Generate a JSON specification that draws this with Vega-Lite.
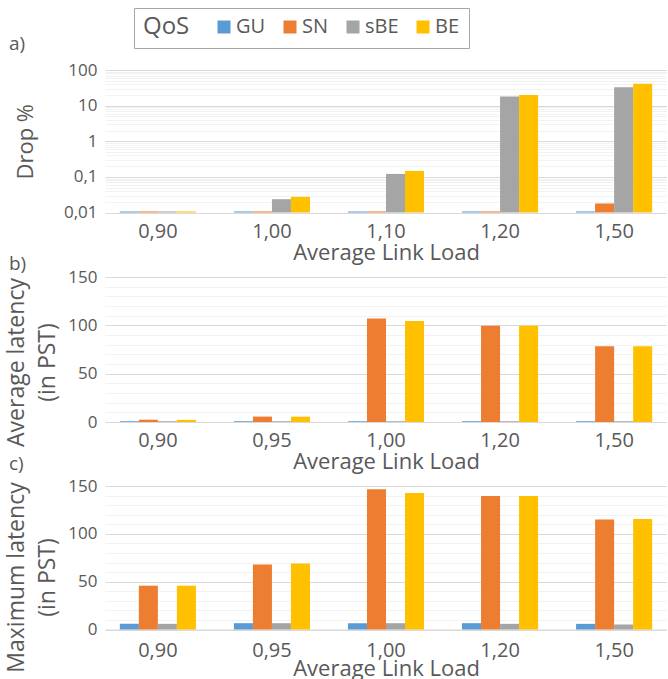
{
  "$schema": "https://vega.github.io/schema/vega-lite/v6.json",
  "background": "white",
  "padding": {"left": 4, "top": 7, "right": 0, "bottom": 0},
  "bounds": "flush",
  "spacing": 64,
  "config": {
    "font": "Open Sans",
    "view": {"stroke": null},
    "axis": {
      "labelColor": "#595959",
      "titleColor": "#595959",
      "titleFontWeight": "normal",
      "ticks": false,
      "tickSize": 0,
      "domainColor": "#d9d9d9",
      "gridColor": "#d9d9d9",
      "labelOverlap": false
    },
    "axisX": {
      "labelAngle": 0,
      "labelFontSize": 20,
      "labelPadding": 8,
      "titleFontSize": 22,
      "titlePadding": 1,
      "grid": false,
      "domain": true
    },
    "axisY": {
      "labelFontSize": 17,
      "labelPadding": 8,
      "titleFontSize": 23,
      "titleLineHeight": 31,
      "domain": false
    },
    "title": {
      "anchor": "start",
      "frame": "group",
      "dx": -96,
      "fontSize": 19,
      "fontWeight": "normal",
      "color": "#595959"
    },
    "legend": {
      "orient": "none",
      "legendX": 29,
      "legendY": -62,
      "direction": "horizontal",
      "titleOrient": "left",
      "titleFontSize": 24,
      "titleFontWeight": "normal",
      "titleColor": "#595959",
      "labelFontSize": 20,
      "labelColor": "#595959",
      "symbolType": "square",
      "symbolSize": 169,
      "symbolStrokeWidth": 0,
      "strokeColor": "#a6a6a6",
      "fillColor": "white",
      "padding": 9,
      "columnPadding": 14,
      "labelOffset": 2,
      "titlePadding": 24
    }
  },
  "datasets": {
    "drop": [
      {"load": "0,90", "qos": "GU", "value": 0.0107},
      {"load": "0,90", "qos": "SN", "value": 0.0107},
      {"load": "0,90", "qos": "sBE", "value": 0.0107},
      {"load": "0,90", "qos": "BE", "value": 0.0107},
      {"load": "1,00", "qos": "GU", "value": 0.0107},
      {"load": "1,00", "qos": "SN", "value": 0.0107},
      {"load": "1,00", "qos": "sBE", "value": 0.0236},
      {"load": "1,00", "qos": "BE", "value": 0.0275},
      {"load": "1,10", "qos": "GU", "value": 0.0107},
      {"load": "1,10", "qos": "SN", "value": 0.0107},
      {"load": "1,10", "qos": "sBE", "value": 0.121},
      {"load": "1,10", "qos": "BE", "value": 0.147},
      {"load": "1,20", "qos": "GU", "value": 0.0107},
      {"load": "1,20", "qos": "SN", "value": 0.0107},
      {"load": "1,20", "qos": "sBE", "value": 17.9},
      {"load": "1,20", "qos": "BE", "value": 20},
      {"load": "1,50", "qos": "GU", "value": 0.0107},
      {"load": "1,50", "qos": "SN", "value": 0.0179},
      {"load": "1,50", "qos": "sBE", "value": 33},
      {"load": "1,50", "qos": "BE", "value": 41}
    ],
    "avg": [
      {"load": "0,90", "qos": "GU", "value": 0.8},
      {"load": "0,90", "qos": "SN", "value": 2.4},
      {"load": "0,90", "qos": "sBE", "value": 0.8},
      {"load": "0,90", "qos": "BE", "value": 2.2},
      {"load": "0,95", "qos": "GU", "value": 0.8},
      {"load": "0,95", "qos": "SN", "value": 5.6},
      {"load": "0,95", "qos": "sBE", "value": 0.8},
      {"load": "0,95", "qos": "BE", "value": 5.5},
      {"load": "1,00", "qos": "GU", "value": 0.8},
      {"load": "1,00", "qos": "SN", "value": 107},
      {"load": "1,00", "qos": "sBE", "value": 0.8},
      {"load": "1,00", "qos": "BE", "value": 104.5},
      {"load": "1,20", "qos": "GU", "value": 0.8},
      {"load": "1,20", "qos": "SN", "value": 99.5},
      {"load": "1,20", "qos": "sBE", "value": 0.8},
      {"load": "1,20", "qos": "BE", "value": 99.5},
      {"load": "1,50", "qos": "GU", "value": 0.8},
      {"load": "1,50", "qos": "SN", "value": 78.3},
      {"load": "1,50", "qos": "sBE", "value": 0.8},
      {"load": "1,50", "qos": "BE", "value": 78.3}
    ],
    "max": [
      {"load": "0,90", "qos": "GU", "value": 5.9},
      {"load": "0,90", "qos": "SN", "value": 45.8},
      {"load": "0,90", "qos": "sBE", "value": 5.9},
      {"load": "0,90", "qos": "BE", "value": 45.8},
      {"load": "0,95", "qos": "GU", "value": 6.6},
      {"load": "0,95", "qos": "SN", "value": 68},
      {"load": "0,95", "qos": "sBE", "value": 6.6},
      {"load": "0,95", "qos": "BE", "value": 69},
      {"load": "1,00", "qos": "GU", "value": 6.6},
      {"load": "1,00", "qos": "SN", "value": 146.5},
      {"load": "1,00", "qos": "sBE", "value": 6.6},
      {"load": "1,00", "qos": "BE", "value": 142.7},
      {"load": "1,20", "qos": "GU", "value": 6.6},
      {"load": "1,20", "qos": "SN", "value": 139.6},
      {"load": "1,20", "qos": "sBE", "value": 5.9},
      {"load": "1,20", "qos": "BE", "value": 139.6},
      {"load": "1,50", "qos": "GU", "value": 5.9},
      {"load": "1,50", "qos": "SN", "value": 115},
      {"load": "1,50", "qos": "sBE", "value": 5.2},
      {"load": "1,50", "qos": "BE", "value": 115.6}
    ]
  },
  "vconcat": [
    {
      "title": {"text": "a)", "dy": -3},
      "width": 562,
      "height": 142.5,
      "data": {"name": "drop"},
      "mark": {"type": "bar"},
      "encoding": {
        "x": {"field": "load", "type": "nominal", "sort": null,
              "scale": {"paddingInner": 0.333, "paddingOuter": 0.13},
              "axis": {"title": "Average Link Load", "domain": false, "labelPadding": 9}},
        "xOffset": {"field": "qos", "type": "nominal", "sort": ["GU", "SN", "sBE", "BE"],
                    "scale": {"paddingInner": 0, "paddingOuter": 0}},
        "y": {"field": "value", "type": "quantitative",
              "scale": {"type": "log", "domain": [0.01, 100], "nice": false},
              "axis": {
                "title": "Drop %",
                "titleFontSize": 22,
                "titleX": -68,
                "values": [0.01, 0.02, 0.03, 0.04, 0.05, 0.06, 0.07, 0.08, 0.09, 0.1, 0.2, 0.3, 0.4, 0.5, 0.6, 0.7, 0.8, 0.9, 1, 2, 3, 4, 5, 6, 7, 8, 9, 10, 20, 30, 40, 50, 60, 70, 80, 90, 100],
                "format": "~g",
                "labelExpr": "indexof([0.01, 0.1, 1, 10, 100], datum.value) >= 0 ? replace(datum.label, '.', ',') : ''",
                "gridColor": {"condition": {"test": "indexof([0.01, 0.1, 1, 10, 100], datum.value) >= 0", "value": "#d9d9d9"}, "value": "#f2f2f2"}
              }},
        "y2": {"datum": 0.01},
        "color": {"field": "qos", "type": "nominal",
                  "scale": {"domain": ["GU", "SN", "sBE", "BE"], "range": ["#5B9BD5", "#ED7D31", "#A5A5A5", "#FFC000"]},
                  "legend": {"title": "QoS"}}
      }
    },
    {
      "title": {"text": "b)", "dy": 10},
      "width": 562,
      "height": 145,
      "data": {"name": "avg"},
      "mark": {"type": "bar"},
      "encoding": {
        "x": {"field": "load", "type": "nominal", "sort": null,
              "scale": {"paddingInner": 0.333, "paddingOuter": 0.13},
              "axis": {"title": "Average Link Load"}},
        "xOffset": {"field": "qos", "type": "nominal", "sort": ["GU", "SN", "sBE", "BE"],
                    "scale": {"paddingInner": 0, "paddingOuter": 0}},
        "y": {"field": "value", "type": "quantitative",
              "scale": {"domain": [0, 150], "nice": false},
              "axis": {
                "title": ["Average latency", "(in PST)"],
                "titleX": -77,
                "titleY": 85,
                "values": [0, 10, 20, 30, 40, 50, 60, 70, 80, 90, 100, 110, 120, 130, 140, 150],
                "labelExpr": "datum.value % 50 === 0 ? datum.label : ''",
                "gridColor": {"condition": {"test": "datum.value % 50 === 0", "value": "#d9d9d9"}, "value": "#f2f2f2"}
              }},
        "color": {"field": "qos", "type": "nominal",
                  "scale": {"domain": ["GU", "SN", "sBE", "BE"], "range": ["#5B9BD5", "#ED7D31", "#A5A5A5", "#FFC000"]},
                  "legend": {"title": "QoS"}}
      }
    },
    {
      "title": {"text": "c)", "dy": 1},
      "width": 562,
      "height": 143.5,
      "data": {"name": "max"},
      "mark": {"type": "bar"},
      "encoding": {
        "x": {"field": "load", "type": "nominal", "sort": null,
              "scale": {"paddingInner": 0.333, "paddingOuter": 0.13},
              "axis": {"title": "Average Link Load", "labelPadding": 11, "titlePadding": -2}},
        "xOffset": {"field": "qos", "type": "nominal", "sort": ["GU", "SN", "sBE", "BE"],
                    "scale": {"paddingInner": 0, "paddingOuter": 0}},
        "y": {"field": "value", "type": "quantitative",
              "scale": {"domain": [0, 150], "nice": false},
              "axis": {
                "title": ["Maximum latency", "(in PST)"],
                "titleX": -77,
                "titleY": 91,
                "values": [0, 10, 20, 30, 40, 50, 60, 70, 80, 90, 100, 110, 120, 130, 140, 150],
                "labelExpr": "datum.value % 50 === 0 ? datum.label : ''",
                "gridColor": {"condition": {"test": "datum.value % 50 === 0", "value": "#d9d9d9"}, "value": "#f2f2f2"}
              }},
        "color": {"field": "qos", "type": "nominal",
                  "scale": {"domain": ["GU", "SN", "sBE", "BE"], "range": ["#5B9BD5", "#ED7D31", "#A5A5A5", "#FFC000"]},
                  "legend": {"title": "QoS"}}
      }
    }
  ]
}
